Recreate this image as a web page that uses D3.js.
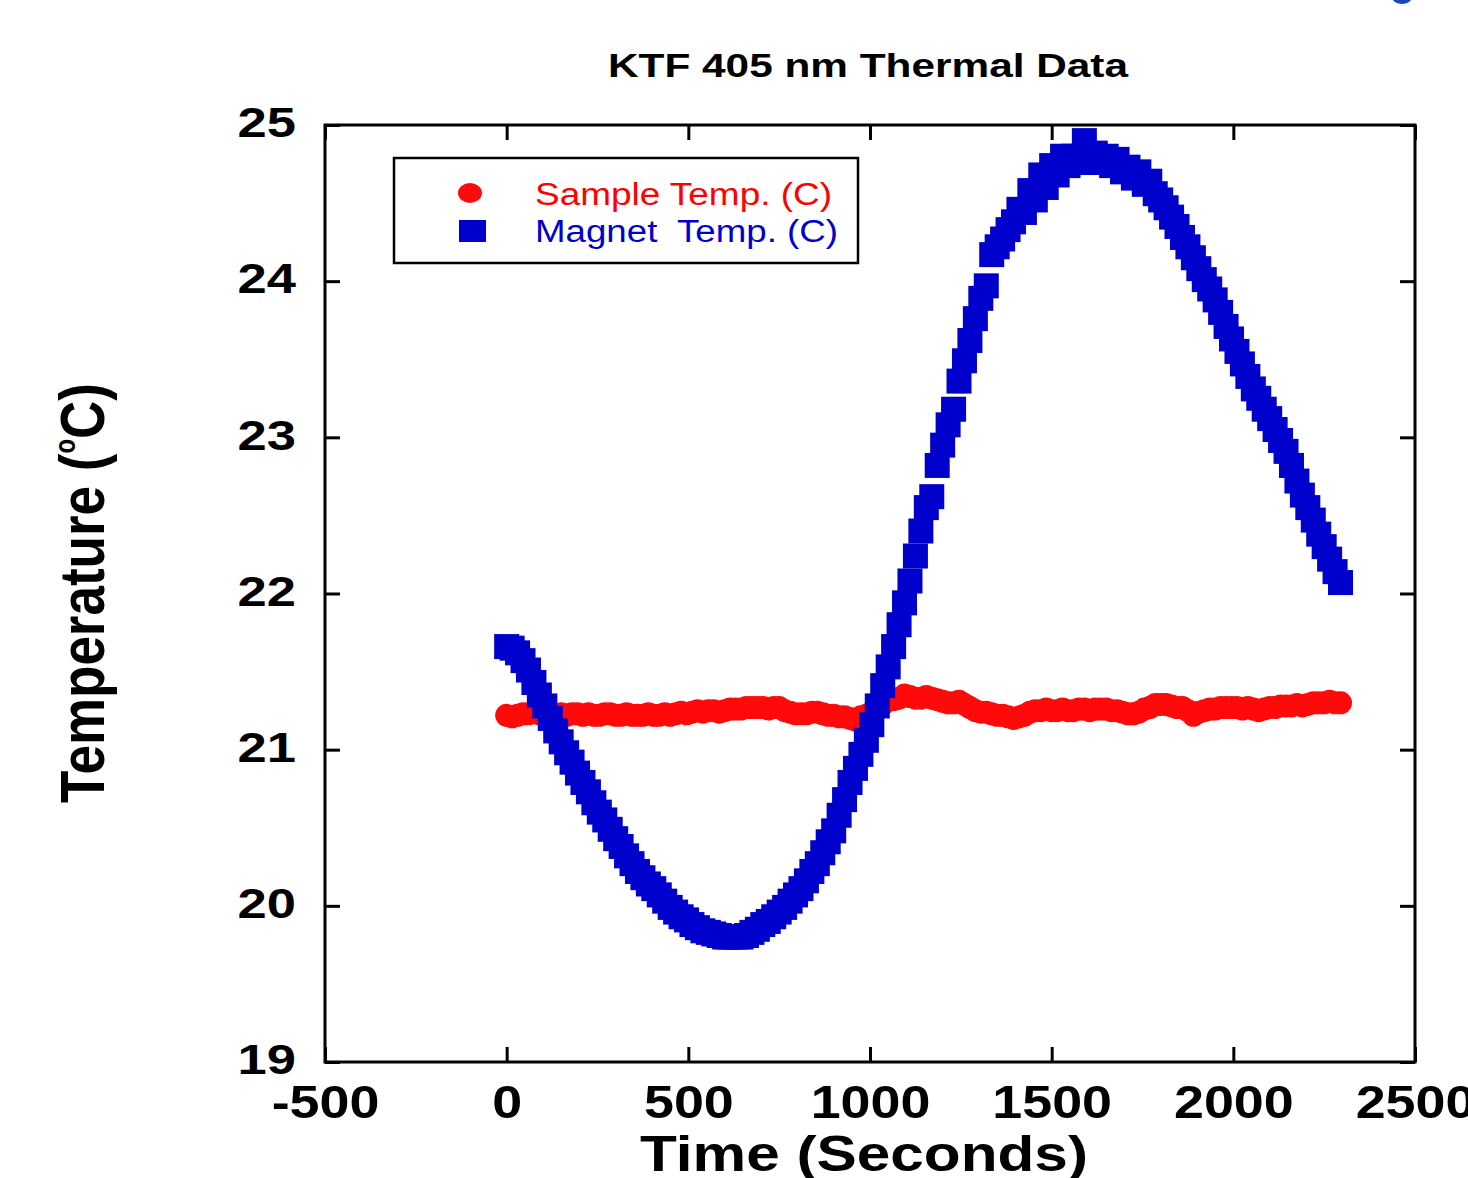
<!DOCTYPE html>
<html>
<head>
<meta charset="utf-8">
<script src="https://cdn.jsdelivr.net/npm/d3@7"></script>
<style>
body { margin: 0; background: #fff; }
text { font-family: "Liberation Sans", Arial, sans-serif; }
</style>
</head>
<body>
<script>
const width = 1468;
const height = 1178;

// sample times (seconds)
const sampleTimes = [
  0, 15, 30, 45, 60, 75, 90, 105, 120, 135,
  150, 165, 180, 195, 210, 225, 240, 255, 270, 285,
  300, 315, 330, 345, 360, 375, 390, 405, 420, 435,
  450, 465, 480, 495, 510, 525, 540, 555, 570, 585,
  600, 615, 630, 645, 660, 675, 690, 705, 720, 735,
  750, 765, 780, 795, 810, 825, 840, 855, 870, 885,
  900, 915, 930, 945, 960, 975, 990, 1005, 1020, 1035,
  1050, 1065, 1080, 1095, 1110, 1125, 1140, 1155, 1170, 1185,
  1200, 1215, 1230, 1245, 1260, 1275, 1290, 1305, 1320, 1335,
  1350, 1365, 1380, 1395, 1410, 1425, 1440, 1455, 1470, 1485,
  1500, 1515, 1530, 1545, 1560, 1575, 1590, 1605, 1620, 1635,
  1650, 1665, 1680, 1695, 1710, 1725, 1740, 1755, 1770, 1785,
  1800, 1815, 1830, 1845, 1860, 1875, 1890, 1905, 1920, 1935,
  1950, 1965, 1980, 1995, 2010, 2025, 2040, 2055, 2070, 2085,
  2100, 2115, 2130, 2145, 2160, 2175, 2190, 2205, 2220, 2235,
  2250, 2265, 2280, 2295
];

// Sample Temp. (C)
const sampleTemp = [
  21.22, 21.21, 21.22, 21.23, 21.23, 21.24, 21.23, 21.22, 21.23, 21.22,
  21.23, 21.22, 21.23, 21.23, 21.22, 21.23, 21.22, 21.22, 21.23, 21.23,
  21.22, 21.22, 21.23, 21.22, 21.22, 21.22, 21.23, 21.22, 21.22, 21.23,
  21.22, 21.23, 21.24, 21.23, 21.24, 21.25, 21.24, 21.25, 21.25, 21.24,
  21.25, 21.26, 21.26, 21.26, 21.27, 21.27, 21.27, 21.27, 21.26, 21.27,
  21.27, 21.25, 21.24, 21.23, 21.23, 21.23, 21.24, 21.24, 21.23, 21.22,
  21.22, 21.21, 21.21, 21.20, 21.19, 21.21, 21.22, 21.24, 21.26, 21.29,
  21.33, 21.32, 21.33, 21.35, 21.34, 21.33, 21.33, 21.34, 21.33, 21.32,
  21.31, 21.30, 21.30, 21.31, 21.29, 21.27, 21.25, 21.24, 21.24, 21.23,
  21.22, 21.22, 21.21, 21.20, 21.21, 21.22, 21.24, 21.25, 21.25, 21.26,
  21.25, 21.25, 21.26, 21.25, 21.25, 21.26, 21.26, 21.25, 21.26, 21.26,
  21.26, 21.25, 21.25, 21.24, 21.23, 21.23, 21.24, 21.26, 21.27, 21.29,
  21.29, 21.29, 21.28, 21.27, 21.27, 21.25, 21.22, 21.24, 21.25, 21.26,
  21.26, 21.27, 21.27, 21.27, 21.27, 21.26, 21.27, 21.26, 21.25, 21.26,
  21.27, 21.27, 21.28, 21.28, 21.28, 21.29, 21.28, 21.29, 21.30, 21.30,
  21.30, 21.31, 21.30, 21.30
];

// Magnet Temp. (C)
const magnetTemp = [
  21.66, 21.65, 21.62, 21.57, 21.51, 21.43, 21.35, 21.28, 21.20, 21.12,
  21.05, 20.98, 20.92, 20.85, 20.79, 20.73, 20.66, 20.60, 20.55, 20.49,
  20.43, 20.38, 20.32, 20.27, 20.22, 20.18, 20.14, 20.11, 20.07, 20.03,
  19.99, 19.96, 19.93, 19.91, 19.88, 19.86, 19.84, 19.83, 19.82, 19.81,
  19.80, 19.80, 19.80, 19.80, 19.81, 19.83, 19.85, 19.88, 19.90, 19.93,
  19.96, 19.99, 20.03, 20.07, 20.11, 20.16, 20.22, 20.27, 20.34, 20.41,
  20.48, 20.58, 20.68, 20.79, 20.88, 20.97, 21.06, 21.16, 21.28, 21.41,
  21.53, 21.66, 21.80, 21.94, 22.08, 22.24, 22.40, 22.55, 22.62, 22.82,
  22.95, 23.08, 23.18, 23.36, 23.49, 23.62, 23.76, 23.89, 23.97, 24.17,
  24.22, 24.27, 24.33, 24.38, 24.46, 24.44, 24.58, 24.52, 24.68, 24.60,
  24.74, 24.68, 24.80, 24.74, 24.80, 24.76, 24.90, 24.80, 24.82, 24.76,
  24.80, 24.74, 24.78, 24.70, 24.73, 24.66, 24.70, 24.62, 24.64, 24.56,
  24.52, 24.47, 24.41, 24.35, 24.28, 24.22, 24.15, 24.08, 24.01, 23.95,
  23.88, 23.80, 23.71, 23.63, 23.55, 23.47, 23.39, 23.31, 23.25, 23.18,
  23.12, 23.05, 22.98, 22.91, 22.82, 22.72, 22.63, 22.55, 22.47, 22.38,
  22.30, 22.22, 22.14, 22.07
];

const xTicks = [-500, 0, 500, 1000, 1500, 2000, 2500];
const yTicks = [19, 20, 21, 22, 23, 24, 25];
const seriesNames = ["Sample Temp. (C)", "Magnet  Temp. (C)"];

const red = "#ff0a0a";
const blue = "#0000cc";

var svg = d3.select("body")
  .append("svg")
  .attr("width", width)
  .attr("height", height);

var xscale = d3.scaleLinear().domain([-500, 2500]).range([325, 1415]);
var yscale = d3.scaleLinear().domain([19, 25]).range([1062, 125]);

// widen text like the original (it was stretched sideways)
function stretch(sel, k) {
  sel.each(function () {
    var w = this.getComputedTextLength();
    d3.select(this).attr("textLength", w * k).attr("lengthAdjust", "spacingAndGlyphs");
  });
}

// little blue blob cut off at the top right
svg.append("ellipse")
  .attr("cx", 1402).attr("cy", -3).attr("rx", 10).attr("ry", 7)
  .attr("fill", "#1a48c0");

// title
svg.append("text")
  .attr("x", 868).attr("y", 77)
  .attr("text-anchor", "middle")
  .attr("font-size", 34).attr("font-weight", "bold")
  .attr("textLength", 520).attr("lengthAdjust", "spacingAndGlyphs")
  .text("KTF 405 nm Thermal Data");

// data: red circles first, blue squares on top
svg.append("g")
  .selectAll("ellipse")
  .data(sampleTimes)
  .enter().append("ellipse")
  .attr("cx", d => xscale(d))
  .attr("cy", (d, i) => yscale(sampleTemp[i]))
  .attr("rx", 11.5).attr("ry", 11.5)
  .attr("fill", red);

var sq = 25;
svg.append("g")
  .selectAll("rect")
  .data(sampleTimes)
  .enter().append("rect")
  .attr("x", d => xscale(d) - sq / 2)
  .attr("y", (d, i) => yscale(magnetTemp[i]) - sq / 2)
  .attr("width", sq).attr("height", sq)
  .attr("fill", blue);

// axes: ticks point inward on all four sides
function styleAxis(g) {
  g.select(".domain").remove();
  g.selectAll(".tick line").attr("stroke", "#000").attr("stroke-width", 3);
}

var xb = svg.append("g")
  .attr("transform", "translate(0,1062)")
  .call(d3.axisBottom(xscale).tickValues(xTicks).tickSizeInner(-15).tickSizeOuter(0)
    .tickPadding(23).tickFormat(d => String(d)))
  .call(styleAxis);
xb.selectAll("text")
  .attr("font-size", 46).attr("font-weight", "bold").attr("fill", "#000")
  .attr("font-family", "Liberation Sans, Arial, sans-serif")
  .call(stretch, 1.17);

var yl = svg.append("g")
  .attr("transform", "translate(325,0)")
  .call(d3.axisLeft(yscale).tickValues(yTicks).tickSizeInner(-15).tickSizeOuter(0)
    .tickPadding(29).tickFormat(d => String(d)))
  .call(styleAxis);
yl.selectAll("text")
  .attr("font-size", 42).attr("font-weight", "bold").attr("fill", "#000")
  .attr("font-family", "Liberation Sans, Arial, sans-serif")
  .attr("dy", "0.28em")
  .call(stretch, 1.25);

svg.append("g")
  .attr("transform", "translate(0,125)")
  .call(d3.axisTop(xscale).tickValues(xTicks).tickSizeInner(-15).tickSizeOuter(0).tickFormat(""))
  .call(styleAxis);

svg.append("g")
  .attr("transform", "translate(1415,0)")
  .call(d3.axisRight(yscale).tickValues(yTicks).tickSizeInner(-15).tickSizeOuter(0).tickFormat(""))
  .call(styleAxis);

// plot frame
svg.append("rect")
  .attr("x", xscale(-500)).attr("y", yscale(25))
  .attr("width", xscale(2500) - xscale(-500))
  .attr("height", yscale(19) - yscale(25))
  .attr("fill", "none").attr("stroke", "#000").attr("stroke-width", 3);

// axis titles
svg.append("text")
  .attr("x", 864).attr("y", 1171)
  .attr("text-anchor", "middle")
  .attr("font-size", 50).attr("font-weight", "bold")
  .attr("textLength", 448).attr("lengthAdjust", "spacingAndGlyphs")
  .text("Time (Seconds)");

var yt = svg.append("g")
  .attr("transform", "translate(104,593) scale(1.2,1) rotate(-90)")
  .append("text")
  .attr("text-anchor", "middle")
  .attr("font-size", 53).attr("font-weight", "bold");
yt.append("tspan").text("Temperature (");
yt.append("tspan").attr("font-size", 24).attr("dy", -24).text("o");
yt.append("tspan").attr("dy", 24).text("C)");

// legend
var legend = svg.append("g");
legend.append("rect")
  .attr("x", 394).attr("y", 158).attr("width", 464).attr("height", 105)
  .attr("fill", "#fff").attr("stroke", "#000").attr("stroke-width", 2.5);
legend.append("ellipse")
  .attr("cx", 470).attr("cy", 193).attr("rx", 12).attr("ry", 10)
  .attr("fill", red);
legend.append("rect")
  .attr("x", 459).attr("y", 220).attr("width", 27).attr("height", 22)
  .attr("fill", blue);
legend.append("text")
  .attr("x", 535).attr("y", 205)
  .attr("font-size", 31).attr("fill", "#ff0000")
  .attr("textLength", 297).attr("lengthAdjust", "spacingAndGlyphs")
  .style("white-space", "pre")
  .text(seriesNames[0]);
legend.append("text")
  .attr("x", 535).attr("y", 242)
  .attr("font-size", 31).attr("fill", blue)
  .attr("textLength", 303).attr("lengthAdjust", "spacingAndGlyphs")
  .style("white-space", "pre")
  .text(seriesNames[1]);
</script>
</body>
</html>
